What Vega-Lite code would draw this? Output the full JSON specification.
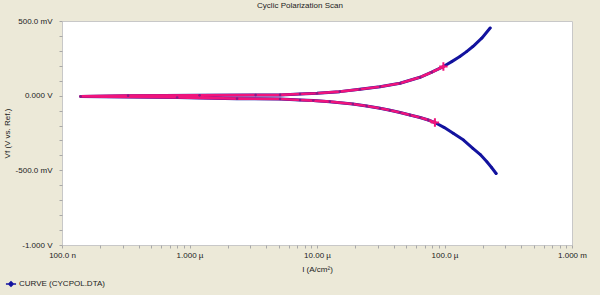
{
  "$schema": "https://vega.github.io/schema/vega-lite/v6.json",
  "width": 510,
  "height": 224,
  "autosize": {"type": "none"},
  "padding": {"left": 62, "top": 21, "right": 28, "bottom": 50},
  "background": "#ECE9D8",
  "config": {
    "font": "Liberation Sans",
    "view": {"fill": "white", "stroke": "#c8c8c8", "strokeWidth": 1},
    "axis": {
      "grid": false,
      "domain": false,
      "tickColor": "#a8a8a8",
      "tickSize": 3,
      "labelFontSize": 8,
      "labelColor": "#222222",
      "titleFontSize": 8,
      "titleFontWeight": "normal",
      "titleColor": "#222222",
      "labelFlush": false,
      "labelOverlap": false
    }
  },
  "title": {
    "text": "Cyclic Polarization Scan",
    "fontSize": 8,
    "fontWeight": "normal",
    "color": "#222222",
    "anchor": "middle",
    "dx": -17,
    "offset": 7
  },
  "data": {
    "values": [
      {"n": 1, "I": 2.54e-4, "V": -0.521, "seg": "blue", "cross": 0},
      {"n": 2, "I": 2.34e-4, "V": -0.481, "seg": "blue", "cross": 0},
      {"n": 3, "I": 2.15e-4, "V": -0.443, "seg": "blue", "cross": 0},
      {"n": 4, "I": 1.90e-4, "V": -0.393, "seg": "blue", "cross": 0},
      {"n": 5, "I": 1.67e-4, "V": -0.353, "seg": "blue", "cross": 0},
      {"n": 6, "I": 1.41e-4, "V": -0.297, "seg": "blue", "cross": 0},
      {"n": 7, "I": 1.17e-4, "V": -0.252, "seg": "blue", "cross": 0},
      {"n": 8, "I": 9.9e-5, "V": -0.212, "seg": "blue", "cross": 0},
      {"n": 9, "I": 8.41e-5, "V": -0.180, "seg": "pink", "cross": 1},
      {"n": 10, "I": 7.46e-5, "V": -0.163, "seg": "pink", "cross": 0},
      {"n": 11, "I": 6.43e-5, "V": -0.146, "seg": "pink", "cross": 0},
      {"n": 12, "I": 5.36e-5, "V": -0.130, "seg": "pink", "cross": 0},
      {"n": 13, "I": 4.48e-5, "V": -0.113, "seg": "pink", "cross": 0},
      {"n": 14, "I": 3.74e-5, "V": -0.098, "seg": "pink", "cross": 0},
      {"n": 15, "I": 3.12e-5, "V": -0.084, "seg": "pink", "cross": 0},
      {"n": 16, "I": 2.45e-5, "V": -0.069, "seg": "pink", "cross": 0},
      {"n": 17, "I": 1.91e-5, "V": -0.056, "seg": "pink", "cross": 0},
      {"n": 18, "I": 1.26e-5, "V": -0.040, "seg": "pink", "cross": 0},
      {"n": 19, "I": 9.35e-6, "V": -0.033, "seg": "pink", "cross": 0},
      {"n": 20, "I": 7.36e-6, "V": -0.029, "seg": "pink", "cross": 0},
      {"n": 21, "I": 5.13e-6, "V": -0.022, "seg": "pink", "cross": 0},
      {"n": 22, "I": 2.36e-6, "V": -0.020, "seg": "pink", "cross": 0},
      {"n": 23, "I": 8.0e-7, "V": -0.012, "seg": "pink", "cross": 0},
      {"n": 24, "I": 1.4e-7, "V": -0.005, "seg": "pink", "cross": 0},
      {"n": 25, "I": 3.3e-7, "V": 0.000, "seg": "pink", "cross": 0},
      {"n": 26, "I": 1.2e-6, "V": 0.002, "seg": "pink", "cross": 0},
      {"n": 27, "I": 3.3e-6, "V": 0.004, "seg": "pink", "cross": 0},
      {"n": 28, "I": 5.13e-6, "V": 0.005, "seg": "pink", "cross": 0},
      {"n": 29, "I": 7.36e-6, "V": 0.011, "seg": "pink", "cross": 0},
      {"n": 30, "I": 1.0e-5, "V": 0.016, "seg": "pink", "cross": 0},
      {"n": 31, "I": 1.51e-5, "V": 0.027, "seg": "pink", "cross": 0},
      {"n": 32, "I": 2.17e-5, "V": 0.043, "seg": "pink", "cross": 0},
      {"n": 33, "I": 3.12e-5, "V": 0.060, "seg": "pink", "cross": 0},
      {"n": 34, "I": 4.48e-5, "V": 0.083, "seg": "pink", "cross": 0},
      {"n": 35, "I": 6.43e-5, "V": 0.123, "seg": "pink", "cross": 0},
      {"n": 36, "I": 7.94e-5, "V": 0.157, "seg": "pink", "cross": 0},
      {"n": 37, "I": 9.8e-5, "V": 0.195, "seg": "pink", "cross": 1},
      {"n": 38, "I": 1.14e-4, "V": 0.228, "seg": "blue", "cross": 0},
      {"n": 39, "I": 1.32e-4, "V": 0.262, "seg": "blue", "cross": 0},
      {"n": 40, "I": 1.49e-4, "V": 0.295, "seg": "blue", "cross": 0},
      {"n": 41, "I": 1.67e-4, "V": 0.329, "seg": "blue", "cross": 0},
      {"n": 42, "I": 1.96e-4, "V": 0.385, "seg": "blue", "cross": 0},
      {"n": 43, "I": 2.28e-4, "V": 0.453, "seg": "blue", "cross": 0}
    ]
  },
  "encoding": {
    "x": {
      "field": "I",
      "type": "quantitative",
      "scale": {"type": "log", "domain": [1e-7, 1e-3], "nice": false},
      "axis": {
        "title": "I (A/cm²)",
        "values": [1e-7, 2e-7, 3e-7, 4e-7, 5e-7, 6e-7, 7e-7, 8e-7, 9e-7, 1e-6, 2e-6, 3e-6, 4e-6, 5e-6, 6e-6, 7e-6, 8e-6, 9e-6, 1e-5, 2e-5, 3e-5, 4e-5, 5e-5, 6e-5, 7e-5, 8e-5, 9e-5, 1e-4, 2e-4, 3e-4, 4e-4, 5e-4, 6e-4, 7e-4, 8e-4, 9e-4, 1e-3],
        "labelExpr": "abs(log(datum.value)/LN10 - round(log(datum.value)/LN10)) < 0.01 ? ['100.0 n','1.000 µ','10.00 µ','100.0 µ','1.000 m'][round(log(datum.value)/LN10)+7] : ''",
        "labelPadding": 3,
        "titlePadding": 6
      }
    },
    "y": {
      "field": "V",
      "type": "quantitative",
      "scale": {"domain": [-1, 0.5], "nice": false, "zero": false},
      "axis": {
        "title": "Vf (V vs. Ref.)",
        "values": [-1, -0.9, -0.8, -0.7, -0.6, -0.5, -0.4, -0.3, -0.2, -0.1, 0, 0.1, 0.2, 0.3, 0.4, 0.5],
        "labelExpr": "abs(datum.value-0.5)<1e-6 ? '500.0 mV' : abs(datum.value)<1e-6 ? '0.000 V' : abs(datum.value+0.5)<1e-6 ? '-500.0 mV' : abs(datum.value+1)<1e-6 ? '-1.000 V' : ''",
        "labelPadding": 7,
        "titlePadding": 4
      }
    },
    "order": {"field": "n", "type": "quantitative"}
  },
  "layer": [
    {
      "mark": {"type": "line", "strokeWidth": 3, "strokeJoin": "round", "strokeCap": "round"},
      "encoding": {
        "color": {
          "datum": "CURVE (CYCPOL.DTA)",
          "type": "nominal",
          "scale": {"range": ["#1414a0"]},
          "legend": {
            "title": null,
            "orient": "none",
            "legendX": -55,
            "legendY": 259,
            "symbolType": "M-1.6,0H1.6M0,-0.7L0.7,0L0,0.7L-0.7,0Z",
            "symbolFillColor": "#1414a0",
            "symbolStrokeColor": "#1414a0",
            "symbolStrokeWidth": 1.5,
            "symbolSize": 40,
            "labelFontSize": 8,
            "labelColor": "#222222",
            "labelOffset": 4
          }
        }
      }
    },
    {
      "transform": [{"filter": "datum.seg == 'pink'"}],
      "mark": {"type": "line", "strokeWidth": 2.6, "color": "#f0147c", "strokeJoin": "round"},
      "encoding": {}
    },
    {
      "mark": {"type": "point", "filled": true, "size": 7, "opacity": 1},
      "encoding": {
        "color": {"condition": {"test": "datum.seg == 'pink'", "value": "#8a1a86"}, "value": "#10109a"}
      }
    },
    {
      "transform": [{"filter": "datum.cross == 1"}],
      "mark": {"type": "point", "shape": "M-1,0H1M0,-1V1", "filled": false, "size": 70, "strokeWidth": 2, "color": "#f0147c", "opacity": 1},
      "encoding": {}
    }
  ]
}
